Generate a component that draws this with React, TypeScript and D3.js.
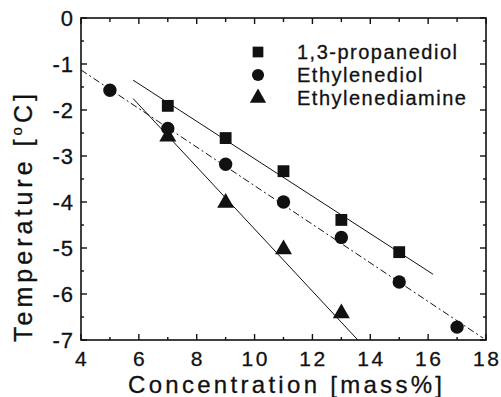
import * as d3 from "d3";
import { useEffect, useRef } from "react";

// measured points
const propX = [7, 9, 11, 13, 15];
const propY = [-1.91, -2.61, -3.33, -4.39, -5.09];
const diolX = [5, 7, 9, 11, 13, 15, 17];
const diolY = [-1.57, -2.4, -3.18, -4.0, -4.77, -5.74, -6.72];
const amineX = [7, 9, 11, 13];
const amineY = [-2.58, -4.02, -5.03, -6.42];

// linear fits: [xStart, xEnd], intercept, slope
const propFit = { x: [5.8, 16.17], a: 1.01, b: -0.407 };
const diolFit = { x: [4, 17.9], a: 0.548, b: -0.4194 };
const amineFit = { x: [5.8, 13.57], a: 2.169, b: -0.6757 };

const legendLabels = ["1,3-propanediol", "Ethylenediol", "Ethylenediamine"];
const xTicks = [4, 6, 8, 10, 12, 14, 16, 18];
const yTicks = [0, -1, -2, -3, -4, -5, -6, -7];

const W = 501;
const H = 397;
const FONT = "'Liberation Sans', Arial, sans-serif";

export default function App() {
  const ref = useRef<SVGSVGElement>(null);

  useEffect(() => {
    const svg = d3.select(ref.current);
    svg.selectAll("*").remove();

    const m = { left: 81, right: 486, top: 18, bottom: 340 };
    const x = d3.scaleLinear().domain([4, 18]).range([m.left, m.right]);
    const y = d3.scaleLinear().domain([-7, 0]).range([m.bottom, m.top]);
    const ink = "#111";

    // frame
    svg.append("rect")
      .attr("x", m.left).attr("y", m.top)
      .attr("width", m.right - m.left).attr("height", m.bottom - m.top)
      .attr("fill", "none").attr("stroke", ink).attr("stroke-width", 1.6);

    // inward ticks
    const xMinor = d3.range(5, 18, 2);
    const yMinor = d3.range(-6.5, 0, 1);
    const tick = (x1: number, y1: number, x2: number, y2: number) =>
      svg.append("line").attr("x1", x1).attr("y1", y1).attr("x2", x2).attr("y2", y2)
        .attr("stroke", ink).attr("stroke-width", 1.4);
    xTicks.forEach((t) => {
      tick(x(t), m.bottom, x(t), m.bottom - 6);
      tick(x(t), m.top, x(t), m.top + 6);
    });
    xMinor.forEach((t) => {
      tick(x(t), m.bottom, x(t), m.bottom - 3);
      tick(x(t), m.top, x(t), m.top + 4);
    });
    yTicks.forEach((t) => {
      tick(m.left, y(t), m.left + 6, y(t));
      tick(m.right, y(t), m.right - 6, y(t));
    });
    yMinor.forEach((t) => {
      tick(m.left, y(t), m.left + 3, y(t));
      tick(m.right, y(t), m.right - 3, y(t));
    });

    const textStyle = (sel: d3.Selection<SVGTextElement, any, any, any>, size: number, ls: number) =>
      sel.style("font", `${size}px ${FONT}`).style("letter-spacing", `${ls}px`)
        .attr("fill", ink).attr("stroke", ink).attr("stroke-width", 0.3);

    // tick labels
    textStyle(
      svg.selectAll("text.xt").data(xTicks).enter().append("text")
        .attr("x", (t) => x(t) + 1.2).attr("y", m.bottom + 26)
        .attr("text-anchor", "middle").text((t) => String(t)),
      21, 2.6);
    textStyle(
      svg.selectAll("text.yt").data(yTicks).enter().append("text")
        .attr("x", m.left - 7).attr("y", (t) => y(t) + 8)
        .attr("text-anchor", "end")
        .text((t) => (t === 0 ? "0" : `-${Math.abs(t)}`)),
      22, 1);

    // axis titles
    textStyle(
      svg.append("text")
        .attr("x", 128).attr("y", 393)
        .attr("textLength", 314).attr("lengthAdjust", "spacing")
        .text("Concentration [mass%]"),
      24, 0);
    const yt = textStyle(
      svg.append("text")
        .attr("transform", `translate(32,342) rotate(-90)`)
        .attr("textLength", 248).attr("lengthAdjust", "spacing"),
      25, 0);
    yt.append("tspan").text("Temperature [");
    yt.append("tspan").attr("dy", -10).style("font-size", "15px").text("o");
    yt.append("tspan").attr("dy", 10).text("C]");

    // fit lines
    const line = d3.line<number>().x((v) => x(v));
    const drawFit = (f: { x: number[]; a: number; b: number }, dash?: string) =>
      svg.append("path")
        .attr("d", line.y((v) => y(f.a + f.b * v))(f.x))
        .attr("fill", "none").attr("stroke", ink).attr("stroke-width", 1)
        .attr("stroke-dasharray", dash ?? null);
    drawFit(propFit);
    drawFit(diolFit, "7,3,2,3");
    drawFit(amineFit);

    // markers
    const types = [d3.symbolSquare, d3.symbolCircle, d3.symbolTriangle];
    const sizes = [140, 140, 125];
    const plot = (xs: number[], ys: number[], k: number) =>
      xs.forEach((v, i) =>
        svg.append("path")
          .attr("transform", `translate(${x(v)},${y(ys[i])})`)
          .attr("d", d3.symbol(types[k], sizes[k])()).attr("fill", ink));
    plot(propX, propY, 0);
    plot(diolX, diolY, 1);
    plot(amineX, amineY, 2);

    // legend
    legendLabels.forEach((label, i) => {
      const ly = 52 + i * 23;
      svg.append("path").attr("transform", `translate(258,${ly})`)
        .attr("d", d3.symbol(types[i], 115)())
        .attr("fill", ink);
      textStyle(
        svg.append("text").attr("x", 297).attr("y", ly + 7).text(label),
        20, 1.5);
    });
  }, []);

  return (
    <svg
      ref={ref}
      width={W}
      height={H}
      style={{ position: "absolute", left: 0, top: 0, background: "#fff" }}
    />
  );
}
